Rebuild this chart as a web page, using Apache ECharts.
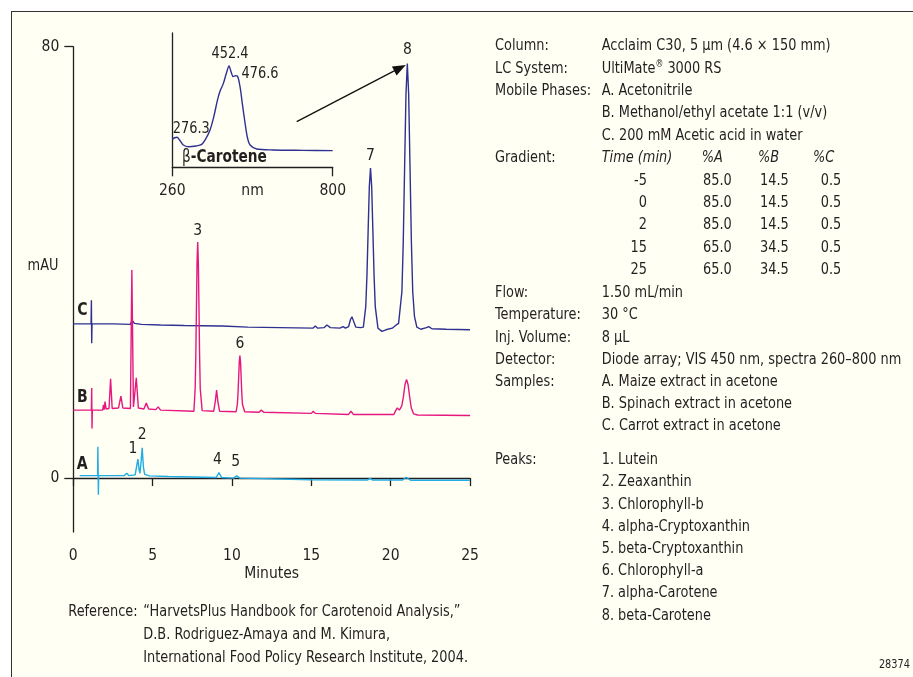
<!DOCTYPE html>
<html><head><meta charset="utf-8">
<script src="https://cdn.jsdelivr.net/npm/echarts@6/dist/echarts.min.js"></script>
<style>
html,body{margin:0;padding:0;background:#fff;overflow:hidden;width:913px;height:677px;}
#frame{position:absolute;left:11px;top:11px;width:940px;height:720px;border:1.3px solid #333;background:#fffff3;}
#chart{position:absolute;left:0;top:0;width:913px;height:677px;}
</style></head><body><div id="frame"></div><div id="chart"></div>
<script>
// ---- chromatogram traces [minutes, mAU] ----
var traceC = [[0,28.6],[1.12,28.6],[1.14,33.0],[1.16,25.0],[1.18,28.6],[2.5,28.6],[3.6,28.5],[3.7,29.3],[3.85,28.7],[4.3,28.5],[5.5,28.4],[7.0,28.3],[9.2,28.2],[9.3,28.5],[9.4,28.2],[11,28.0],[13,27.9],[15.1,27.8],[15.25,28.2],[15.4,27.8],[15.8,27.9],[15.98,28.4],[16.2,27.9],[16.8,27.8],[17.0,28.1],[17.15,27.8],[17.35,28.1],[17.47,29.4],[17.56,29.9],[17.65,29.2],[17.8,28.0],[18.1,27.9],[18.28,28.0],[18.43,31.8],[18.505,37.5],[18.58,45.8],[18.655,54.0],[18.73,57.5],[18.805,54.0],[18.88,45.8],[18.955,37.5],[19.03,31.8],[19.2,27.8],[19.45,27.2],[19.7,27.5],[20.1,27.8],[20.35,28.4],[20.5,28.7],[20.71,34.6],[20.795,43.9],[20.88,57.7],[20.965,71.2],[21.05,76.9],[21.135,71.2],[21.22,57.7],[21.305,43.9],[21.39,34.6],[21.5,30.0],[21.65,28.0],[21.9,27.6],[22.25,27.9],[22.4,28.1],[22.6,27.7],[23.5,27.6],[25,27.5]];
var traceB = [[0,12.6],[1.14,12.6],[1.16,16.7],[1.18,9.2],[1.2,12.6],[1.85,12.6],[1.9,13.6],[1.95,12.7],[2.0,14.2],[2.07,12.8],[2.25,12.9],[2.35,18.4],[2.45,12.9],[2.85,13.0],[3.0,15.2],[3.12,13.0],[3.6,12.9],[3.69,38.6],[3.79,13.2],[3.87,13.5],[3.97,18.6],[4.1,13.0],[4.45,12.8],[4.6,13.9],[4.75,12.8],[5.2,12.7],[5.35,13.2],[5.5,12.6],[7.6,12.4],[7.68,16.6],[7.72,22.6],[7.76,31.5],[7.80,40.1],[7.84,43.8],[7.88,40.1],[7.92,31.5],[7.96,22.6],[8.0,16.6],[8.12,12.5],[8.85,12.4],[8.95,14.2],[9.03,16.3],[9.11,14.2],[9.22,12.4],[10.26,12.3],[10.34,13.7],[10.38,15.7],[10.42,18.6],[10.46,21.5],[10.5,22.7],[10.54,21.5],[10.58,18.6],[10.62,15.7],[10.66,13.7],[10.8,12.3],[11.7,12.2],[11.85,12.6],[12.0,12.2],[15.0,12.0],[15.12,12.4],[15.25,12.0],[17.35,11.8],[17.5,12.4],[17.65,11.8],[18.6,11.8],[18.7,12.0],[18.8,11.8],[20.2,11.8],[20.33,12.6],[20.42,13.0],[20.55,12.6],[20.7,13.4],[20.8,15.0],[20.9,17.3],[21.0,18.3],[21.1,17.3],[21.2,15.0],[21.3,13.0],[21.45,11.9],[21.7,11.7],[25,11.6]];
var traceA = [[0.4,0.45],[1.53,0.45],[1.55,5.8],[1.58,-3.1],[1.6,0.45],[3.2,0.45],[3.37,0.9],[3.5,0.45],[3.9,0.6],[3.98,2.0],[4.07,3.5],[4.15,1.5],[4.2,0.9],[4.27,3.0],[4.34,5.6],[4.42,2.0],[4.5,0.7],[4.62,0.9],[4.8,0.4],[6,0.3],[9.0,0.1],[9.18,1.0],[9.35,0.1],[10.1,0.0],[10.3,0.4],[10.5,0.0],[15,-0.3],[18.55,-0.35],[18.7,-0.05],[18.85,-0.35],[20.75,-0.35],[20.98,0.15],[21.25,-0.4],[25,-0.4]];
// ---- inset UV-Vis spectrum of beta-carotene [nm, relative] ----
var spectrum = [[260,20.8],[268,22.0],[276,22.4],[284,20.5],[296,16.8],[314,15.3],[340,15.9],[359,17.1],[372,21],[387,27.8],[400,38],[412,50],[420,56.3],[432,62.5],[442,70],[451,75.4],[458,71],[465,67.5],[472,68.2],[479,68],[488,60],[496,47],[505,32.8],[513,22],[522,16.6],[544,13.6],[600,12.9],[700,12.6],[800,12.4]];
// ---- peak numbers [label, minutes, mAU] ----
var peaksC = [['8',21.05,76.9],['7',18.73,57.5]];
var peaksB = [['3',7.84,43.8],['6',10.5,22.7]];
var peaksA = [['1',4.07,3.5],['2',4.34,5.6],['4',9.18,1.0],['5',10.3,0.4]];
var xTicks = [0,5,10,15,20,25];
var yTicks = [0,80];
var insetTicks = [260,800];
var insetPeakLabels = ['452.4','476.6','276.3'];
// ---- text panel ----
var specLabels = ['Column:','LC System:','Mobile Phases:','','','Gradient:'];
var specValues = ['Acclaim C30, 5 µm (4.6 × 150 mm)','UltiMate® 3000 RS','A. Acetonitrile','B. Methanol/ethyl acetate 1:1 (v/v)','C. 200 mM Acetic acid in water'];
var gradHead = ['Time (min)','%A','%B','%C'];
var gradTime = ['-5','0','2','15','25'];
var gradA = ['85.0','85.0','85.0','65.0','65.0'];
var gradB = ['14.5','14.5','14.5','34.5','34.5'];
var gradC = ['0.5','0.5','0.5','0.5','0.5'];
var condLabels = ['Flow:','Temperature:','Inj. Volume:','Detector:','Samples:','',''];
var condValues = ['1.50 mL/min','30 °C','8 µL','Diode array; VIS 450 nm, spectra 260–800 nm','A. Maize extract in acetone','B. Spinach extract in acetone','C. Carrot extract in acetone'];
var peakNames = ['Lutein','Zeaxanthin','Chlorophyll-b','alpha-Cryptoxanthin','beta-Cryptoxanthin','Chlorophyll-a','alpha-Carotene','beta-Carotene'];
var refLines = ['“HarvetsPlus Handbook for Carotenoid Analysis,”','D.B. Rodriguez-Amaya and M. Kimura,','International Food Policy Research Institute, 2004.'];

var FONT = "'DejaVu Sans Condensed','Liberation Sans Narrow','Liberation Sans',sans-serif";
var INK = '#231f20';
var FS = 16.5, SX = 0.87, AFS = 15;
var colC = '#2e3192', colB = '#e6177f', colA = '#20ace4';

function txt(t, x, y, opt) {
  opt = opt || {};
  return { type: 'text', x: x, y: y, scaleX: opt.sx || SX, silent: true, z: 100,
    style: Object.assign({ text: t, fill: INK, fontSize: FS, fontFamily: FONT,
      align: opt.align || 'left', verticalAlign: 'middle',
      fontStyle: opt.italic ? 'italic' : 'normal', fontWeight: opt.bold ? 'bold' : 'normal' }, opt.style || {}) };
}
var g = [];
g.push(txt('mAU', 43, 266, {align:'center'}));
g.push(txt('C', 82.3, 310, {align:'center', bold:true, style:{fontSize:18}}));
g.push(txt('B', 82.3, 397, {align:'center', bold:true, style:{fontSize:18}}));
g.push(txt('A', 82.3, 464.5, {align:'center', bold:true, style:{fontSize:18}}));
g.push(txt(insetPeakLabels[0], 230, 53.3, {align:'center'}));
g.push(txt(insetPeakLabels[1], 260, 73.3, {align:'center'}));
g.push(txt(insetPeakLabels[2], 191.3, 128.3, {align:'center'}));
g.push({ type:'text', x:182, y:157.5, scaleX:SX, silent:true, z:100,
  style:{ text:'{n|β}{b|-Carotene}', verticalAlign:'middle', align:'left', fill:INK,
    rich:{ n:{fontSize:FS+1, fontFamily:FONT, fill:INK}, b:{fontSize:FS+1, fontFamily:FONT, fontWeight:'bold', fill:INK} } } });
var LX = 495, VX = 601.7, top0 = 46, dy1 = 22.4;
specLabels.forEach(function(s,i){ if(s) g.push(txt(s, LX, top0 + i*dy1)); });
specValues.forEach(function(s,i){
  if (i === 1) {
    g.push({ type:'text', x:VX, y:top0 + i*dy1, scaleX:SX, silent:true, z:100,
      style:{ text:'{a|UltiMate}{s|®}{a| 3000 RS}', verticalAlign:'middle', align:'left', fill:INK,
        rich:{ a:{fontSize:FS, fontFamily:FONT, fill:INK}, s:{fontSize:10, fontFamily:FONT, fill:INK, padding:[0,0,7,0]} } } });
  } else g.push(txt(s, VX, top0 + i*dy1));
});
var colX = [VX, 701.7, 758, 813];
gradHead.forEach(function(s,i){ g.push(txt(s, colX[i], top0 + 5*dy1, {italic:true})); });
for (var r = 0; r < gradTime.length; r++) {
  var yy = top0 + (6 + r)*dy1;
  g.push(txt(gradTime[r], 647, yy, {align:'right'}));
  g.push(txt(gradA[r], 703, yy));
  g.push(txt(gradB[r], 760, yy));
  g.push(txt(gradC[r], 820.7, yy));
}
var top1 = 293, dy2 = 22.2;
condLabels.forEach(function(s,i){ if(s) g.push(txt(s, LX, top1 + i*dy2)); });
condValues.forEach(function(s,i){ g.push(txt(s, VX, top1 + i*dy2)); });
var top2 = 460;
g.push(txt('Peaks:', LX, top2));
peakNames.forEach(function(s,i){ g.push(txt((i+1) + '. ' + s, VX, top2 + i*dy2)); });
g.push(txt('Reference:', 68.3, 611.7));
refLines.forEach(function(s,i){ g.push(txt(s, 143.3, 611.7 + i*23)); });
g.push(txt('28374', 910, 665, {align:'right', style:{fontSize:12.5}}));

function mp(list, offs) {
  return { symbol:'circle', symbolSize:0, silent:true,
    label:{ show:true, position:'inside', color:INK, fontSize:AFS+0.5, fontFamily:FONT },
    data: list.map(function(p,i){ return { coord:[p[1],p[2]], value:p[0],
      label:{ formatter:p[0], offset:offs[i] } }; }) };
}
var axisLineStyle = { color: INK, width: 1.3 };
var option = {
  animation: false,
  backgroundColor: 'transparent',
  textStyle: { fontFamily: FONT },
  grid: [
    { left: 73.3, top: 46.7, right: 443, bottom: 145 },
    { left: 172.3, top: 33, width: 160.4, height: 134.3 }
  ],
  xAxis: [
    { gridIndex:0, type:'value', min:0, max:25, interval:5,
      axisLine:{lineStyle:axisLineStyle}, axisTick:{length:8, lineStyle:axisLineStyle, customValues:xTicks},
      axisLabel:{color:INK, fontSize:AFS+0.5, fontFamily:FONT, margin:16, customValues:xTicks},
      splitLine:{show:false}, name:'Minutes', nameLocation:'middle', nameGap:34, nameMoveOverlap:false,
      nameTextStyle:{color:INK, fontSize:AFS+0.5, fontFamily:FONT} },
    { gridIndex:1, type:'value', min:260, max:800,
      axisLine:{lineStyle:axisLineStyle}, axisTick:{length:9, lineStyle:axisLineStyle, customValues:insetTicks},
      axisLabel:{color:INK, fontSize:AFS+0.5, fontFamily:FONT, margin:16, customValues:insetTicks},
      splitLine:{show:false}, name:'nm', nameLocation:'middle', nameGap:16, nameMoveOverlap:false,
      nameTextStyle:{color:INK, fontSize:AFS+0.5, fontFamily:FONT} }
  ],
  yAxis: [
    { gridIndex:0, type:'value', min:-10, max:80,
      axisLine:{show:true, lineStyle:axisLineStyle}, axisTick:{show:true, length:9, lineStyle:axisLineStyle, customValues:yTicks},
      axisLabel:{color:INK, fontSize:AFS+0.5, fontFamily:FONT, margin:14, customValues:yTicks},
      splitLine:{show:false} },
    { gridIndex:1, type:'value', min:0, max:100,
      axisLine:{show:true, lineStyle:axisLineStyle}, axisTick:{show:false}, axisLabel:{show:false},
      splitLine:{show:false} }
  ],
  series: [
    { name:'C', type:'line', data:traceC, showSymbol:false, xAxisIndex:0, yAxisIndex:0,
      lineStyle:{color:colC, width:1.4}, itemStyle:{color:colC}, silent:true,
      markPoint: mp(peaksC, [[0,-13],[0,-12]]),
      markLine: { silent:true, symbol:['none','triangle'], symbolSize:[10,13],
        lineStyle:{color:'#111', width:1.3, type:'solid'}, label:{show:false},
        data:[[{coord:[14.08,66.1]},{coord:[20.59,76.06]}]] } },
    { name:'B', type:'line', data:traceB, showSymbol:false, xAxisIndex:0, yAxisIndex:0,
      lineStyle:{color:colB, width:1.4}, itemStyle:{color:colB}, silent:true,
      markPoint: mp(peaksB, [[0,-11],[0,-12]]) },
    { name:'A', type:'line', data:traceA, showSymbol:false, xAxisIndex:0, yAxisIndex:0,
      lineStyle:{color:colA, width:1.4}, itemStyle:{color:colA}, silent:true,
      markPoint: mp(peaksA, [[-5,-10],[0,-13],[-1.5,-13],[-1,-14]]) },
    { name:'spectrum', type:'line', data:spectrum, showSymbol:false, xAxisIndex:1, yAxisIndex:1,
      smooth:0.3, lineStyle:{color:colC, width:1.4}, silent:true }
  ],
  graphic: g
};
var chart = echarts.init(document.getElementById('chart'), null, {renderer:'canvas'});
chart.setOption(option);
</script></body></html>
